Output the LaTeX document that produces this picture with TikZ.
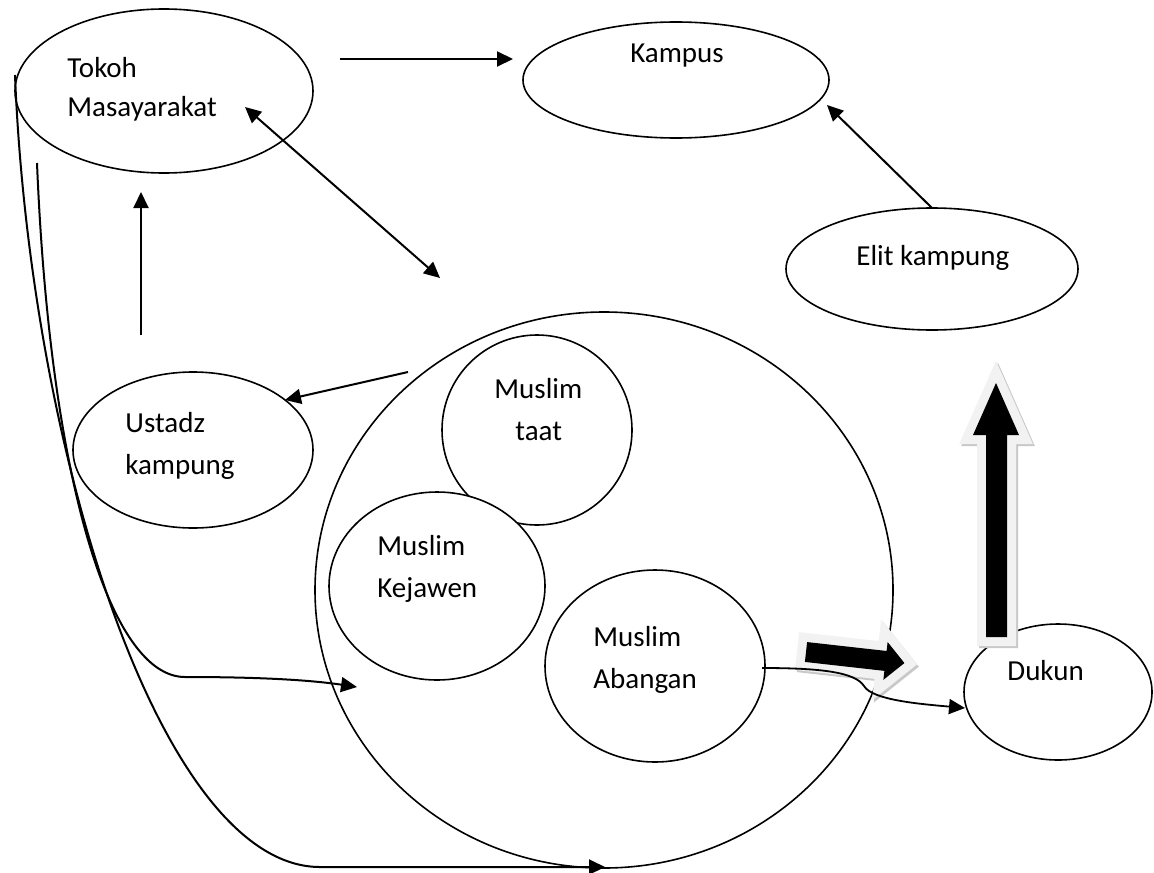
\documentclass[tikz,border=0pt]{standalone}
\usepackage{fontspec}
\setmainfont{Carlito}
\usetikzlibrary{shapes.geometric,arrows.meta}
\definecolor{outl}{HTML}{F2F2F2}
\definecolor{shad}{HTML}{C8C8C8}
\begin{document}
\begin{tikzpicture}[x=0.5pt,y=-0.5pt,
  oval/.style={ellipse, draw, line width=0.8pt, inner sep=0pt, outer sep=0pt},
  lbl/.style={anchor=base west, inner sep=0pt, font=\fontsize{14.5}{17}\selectfont},
  tipA/.tip={Triangle[length=8pt,width=7.5pt]},
  conn/.style={line width=1pt, -tipA},
  blockshadow/.style={draw=shad, line width=9pt, line join=miter, miter limit=4},
  blockoutline/.style={draw=outl, line width=9pt, line join=miter, miter limit=4},
]
\useasboundingbox (0,0) rectangle (1154,872);

% ellipses
\node[oval, minimum width=289pt, minimum height=278pt] (big) at (604,590) {};
\node[oval, minimum width=95pt, minimum height=95pt] (taat) at (537,430) {};
\node[oval, fill=white, minimum width=108pt, minimum height=94pt] (kejawen) at (437,586) {};
\node[oval, minimum width=110pt, minimum height=96pt] (abangan) at (655,666) {};
\node[oval, minimum width=149pt, minimum height=82pt] (tokoh) at (164,91) {};
\node[oval, minimum width=153pt, minimum height=58pt] (kampus) at (676,80) {};
\node[oval, minimum width=146pt, minimum height=61pt] (elit) at (932,269) {};
\node[oval, minimum width=120pt, minimum height=78pt] (ustadz) at (193,450) {};
\node[oval, minimum width=94pt, minimum height=68pt] (dukun) at (1058,692) {};

% texts
\node[lbl] (t1) at (67,77) {Tokoh};
\node[lbl] (t2) at (67,117) {Masayarakat};
\node[lbl, anchor=base] (t3) at (677,63) {Kampus};
\node[lbl] (t4) at (856,265) {Elit kampung};
\node[lbl] (t5) at (125,432) {Ustadz};
\node[lbl] (t6) at (125,474) {kampung};
\node[lbl] (t7) at (494,398) {Muslim};
\node[lbl] (t8) at (515,440) {taat};
\node[lbl] (t9) at (377,555) {Muslim};
\node[lbl] (t10) at (377,597) {Kejawen};
\node[lbl] (t11) at (593,646) {Muslim};
\node[lbl] (t12) at (593,688) {Abangan};
\node[lbl] (t13) at (1007,680) {Dukun};

% connector end points
\coordinate (a1s) at (340,59);
\coordinate (a1e) at (513,59);
\coordinate (a2e) at (827,105);
\coordinate (a3s) at (245,107);
\coordinate (a3e) at (440,278);
\coordinate (a4s) at (141,335);
\coordinate (a4e) at (141,192);
\coordinate (a5s) at (408,372);
\coordinate (a5e) at (285,400);
\coordinate (c1s) at (37,163);
\coordinate (c1m) at (185,677);
\coordinate (c1e) at (357,687);
\coordinate (c2s) at (15,75);
\coordinate (c2m) at (320,867);
\coordinate (c2e) at (605,867);
\coordinate (c3s) at (762,668);
\coordinate (c3m) at (864,686);
\coordinate (c3e) at (965,708);

% connectors
\draw[conn] (a1s) -- (a1e);
\draw[conn] (elit.north) -- (a2e);
\draw[line width=1pt, tipA-tipA] (a3s) -- (a3e);
\draw[conn] (a4s) -- (a4e);
\draw[conn] (a5s) -- (a5e);
\draw[conn] (c1s) .. controls (50,480) and (110,677) .. (c1m)
  .. controls (260,677) and (310,680) .. (c1e);
\draw[conn] (c2s) .. controls (30,450) and (160,867) .. (c2m) -- (c2e);

% block arrow up
\begin{scope}
  \path[blockshadow] (988,639) -- (988,437) -- (975,437) -- (998,385) -- (1021,437) -- (1009,437) -- (1009,639) -- cycle;
  \path[blockoutline] (986,637) -- (986,435) -- (973,435) -- (996,383) -- (1019,435) -- (1007,435) -- (1007,637) -- cycle;
  \fill[black] (986,637) -- (986,435) -- (973,435) -- (996,383) -- (1019,435) -- (1007,435) -- (1007,637) -- cycle;
\end{scope}

% block arrow right
\begin{scope}[shift={(806,652)}, rotate=-6.4]
  \path[blockshadow] (2,-8) -- (82,-8) -- (82,-17) -- (101,2) -- (82,21) -- (82,12) -- (2,12) -- cycle;
  \path[blockoutline] (0,-10) -- (80,-10) -- (80,-19) -- (99,0) -- (80,19) -- (80,10) -- (0,10) -- cycle;
  \fill[black] (0,-10) -- (80,-10) -- (80,-19) -- (99,0) -- (80,19) -- (80,10) -- (0,10) -- cycle;
\end{scope}

\draw[conn, line width=0.9pt] (c3s) .. controls (820,668) and (855,672) .. (c3m)
  .. controls (872,700) and (920,704) .. (c3e);
\end{tikzpicture}
\end{document}
